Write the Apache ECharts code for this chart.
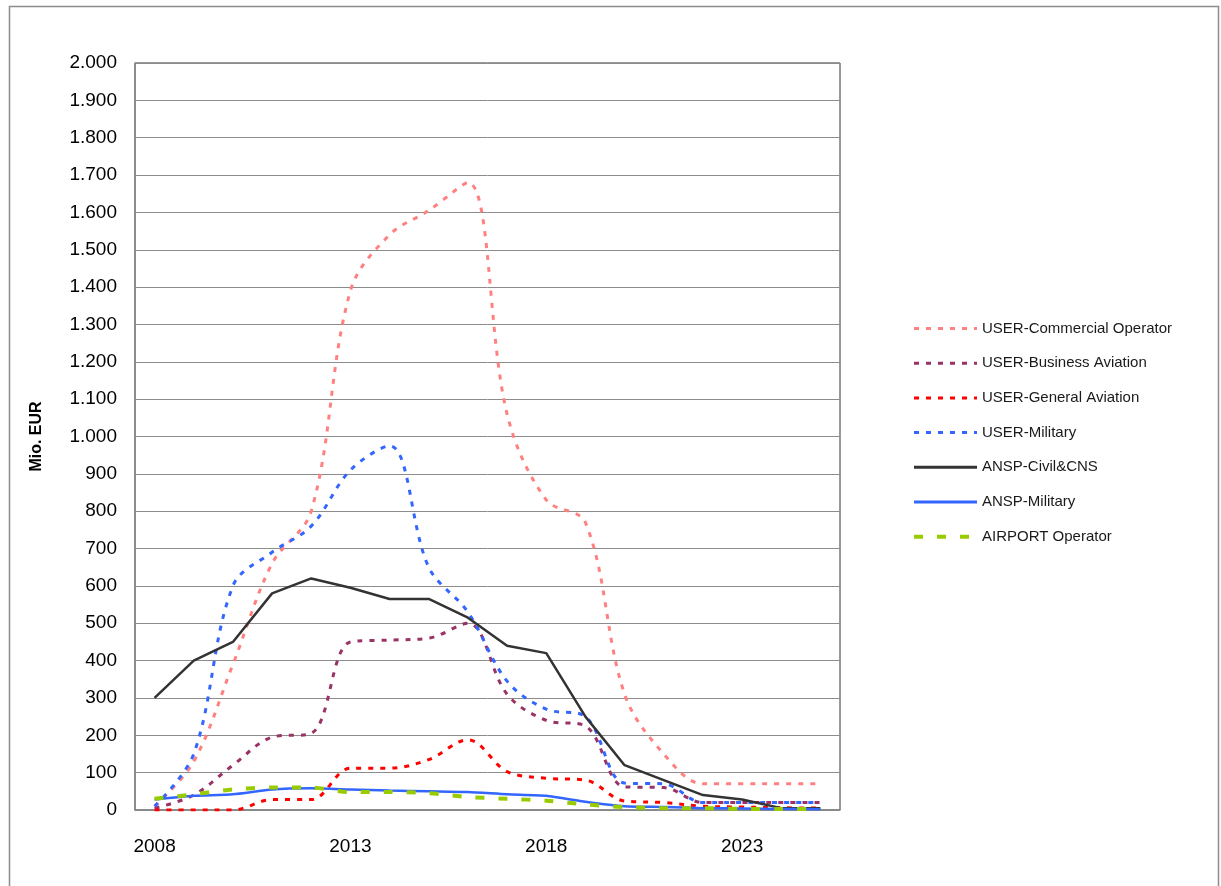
<!DOCTYPE html>
<html>
<head>
<meta charset="utf-8">
<script src="https://cdn.jsdelivr.net/npm/echarts@6/dist/echarts.min.js"></script>
<style>
  html, body { margin: 0; padding: 0; background: #fff; }
  #chart { width: 1221px; height: 886px; }
</style>
</head>
<body>
<div id="chart"></div>
<script>
// Years on the category axis
const years = ['2008','2009','2010','2011','2012','2013','2014','2015','2016',
               '2017','2018','2019','2020','2021','2022','2023','2024','2025'];

// Costs per stakeholder group, Mio. EUR
const userCommercial = [10, 130, 390, 660, 800, 1390, 1540, 1605, 1680, 1060, 830, 770, 310, 150, 70, 70, 70, 70];
const userBusiness   = [5, 40, 120, 195, 205, 450, 455, 460, 500, 310, 240, 225, 62, 60, 20, 20, 20, 20];
const userGeneral    = [0, 0, 0, 28, 28, 112, 112, 135, 188, 103, 85, 80, 24, 20, 10, 8, 6, 5];
const userMilitary   = [10, 150, 600, 690, 760, 910, 975, 650, 530, 345, 270, 250, 72, 70, 20, 20, 20, 20];
const anspCivil      = [300, 400, 450, 580, 620, 595, 565, 565, 515, 440, 420, 250, 120, 80, 40, 28, 5, 5];
const anspMilitary   = [28, 38, 42, 55, 58, 55, 52, 50, 48, 42, 38, 22, 10, 8, 5, 4, 3, 2];
const airportOp      = [30, 42, 55, 60, 60, 48, 48, 45, 35, 30, 25, 15, 8, 5, 5, 3, 3, 2];

// Series names, in legend order
const seriesNames = ['USER-Commercial Operator','USER-Business Aviation','USER-General Aviation',
                     'USER-Military','ANSP-Civil&CNS','ANSP-Military','AIRPORT Operator'];

// Y axis range and step
const yMin = 0, yMax = 2000, yStep = 100;

function fmtThousands(v) {
  return String(v).replace(/\B(?=(\d{3})+(?!\d))/g, '.');
}

function dotted(name, data, color) {
  return {
    name, type: 'line', data, smooth: 0.35, symbol: 'none',
    lineStyle: { color, width: 3, type: [5, 7], cap: 'butt' },
    itemStyle: { color }
  };
}

const chart = echarts.init(document.getElementById('chart'), null, { renderer: 'canvas' });

chart.setOption({
  animation: false,
  backgroundColor: '#fff',
  graphic: [{
    type: 'rect', silent: true, z: -10,
    shape: { x: 9.5, y: 6.5, width: 1209, height: 900 },
    style: { fill: 'none', stroke: '#8c8c8c', lineWidth: 1.5 }
  }],
  grid: {
    left: 135, top: 63, width: 705, height: 747,
    show: true, borderColor: '#333', borderWidth: 1, backgroundColor: 'transparent'
  },
  legend: {
    orient: 'vertical', left: 912, top: 321, padding: 0,
    itemWidth: 63, itemHeight: 14, itemGap: 19.7,
    itemStyle: { opacity: 0 },
    lineStyle: { width: 3 },
    textStyle: { fontFamily: 'Liberation Sans', fontSize: 15, color: '#1a1a1a' },
    data: seriesNames.map((n, i) => i === 6 ? { name: n, lineStyle: { width: 4 } } : n)
  },
  xAxis: {
    type: 'category', data: years, boundaryGap: true,
    axisLine: { lineStyle: { color: '#888', width: 1.5 } },
    axisTick: { show: false },
    axisLabel: {
      interval: 4, margin: 27, color: '#000',
      fontFamily: 'Liberation Sans', fontSize: 19
    },
    splitLine: { show: false }
  },
  yAxis: {
    type: 'value', min: yMin, max: yMax, interval: yStep,
    name: 'Mio. EUR', nameLocation: 'middle', nameGap: 90, nameRotate: 90,
    nameTextStyle: { fontFamily: 'Liberation Sans', fontSize: 16, fontWeight: 'bold', color: '#000' },
    axisLine: { show: true, lineStyle: { color: '#888', width: 1.5 } },
    axisTick: { show: false },
    axisLabel: {
      margin: 18, color: '#000', fontFamily: 'Liberation Sans', fontSize: 19,
      formatter: v => fmtThousands(v)
    },
    splitLine: { show: true, lineStyle: { color: '#8c8c8c', width: 1 } }
  },
  series: [
    dotted(seriesNames[0], userCommercial, '#FF8080'),
    dotted(seriesNames[1], userBusiness, '#993366'),
    dotted(seriesNames[2], userGeneral, '#FF0000'),
    dotted(seriesNames[3], userMilitary, '#3366FF'),
    {
      name: seriesNames[4], type: 'line', data: anspCivil, symbol: 'none',
      lineStyle: { color: '#333333', width: 2.5 }, itemStyle: { color: '#333333' }
    },
    {
      name: seriesNames[5], type: 'line', data: anspMilitary, symbol: 'none', smooth: 0.2,
      lineStyle: { color: '#3366FF', width: 2.5 }, itemStyle: { color: '#3366FF' }
    },
    {
      name: seriesNames[6], type: 'line', data: airportOp, symbol: 'none', smooth: 0.3,
      lineStyle: { color: '#99CC00', width: 4, type: [9, 14], cap: 'butt' },
      itemStyle: { color: '#99CC00' }
    }
  ]
});
</script>
</body>
</html>
